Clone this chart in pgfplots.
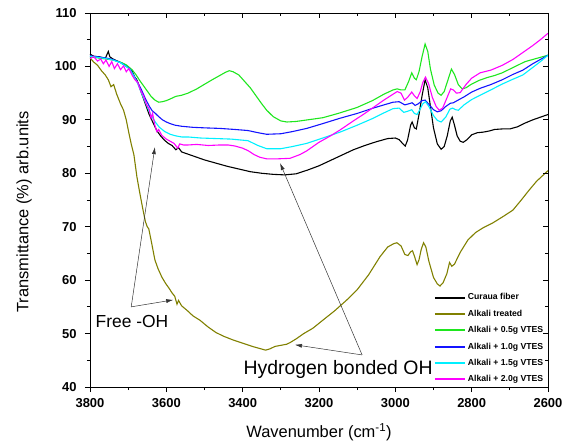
\documentclass[border=0pt]{standalone}
\usepackage{fontspec}
\setmainfont{Liberation Sans}
\usepackage{pgfplots}
\pgfplotsset{compat=1.18}
\usetikzlibrary{arrows.meta}
\definecolor{cblack}{RGB}{0,0,0}
\definecolor{colive}{RGB}{128,128,0}
\definecolor{cgreen}{RGB}{30,230,30}
\definecolor{cblue}{RGB}{20,20,255}
\definecolor{ccyan}{RGB}{0,240,255}
\definecolor{cmag}{RGB}{255,0,255}
\begin{document}
\begin{tikzpicture}
\useasboundingbox (-90bp,-61bp) rectangle (479bp,387bp);
\pgfplotsset{common/.style={
  scale only axis, width=458bp, height=374bp,
  x dir=reverse, xmin=2600, xmax=3800, ymin=40, ymax=110,
  xtick={2600,2800,...,3800}, minor xtick={2700,2900,...,3700},
  ytick={40,50,...,110}, minor ytick={45,55,...,105},
  major tick length=5bp, minor tick length=3bp,
  tick style={black, line width=0.8pt},
}}
\begin{axis}[common,
  axis line style={line width=0.9pt},
  xtick pos=left, ytick pos=left, tick align=outside,
  /pgf/number format/assume math mode=true,
  /pgf/number format/1000 sep={},
  ticklabel style={font=\bfseries\fontsize{13}{15}\selectfont},
  xticklabel style={yshift=-3bp},
  yticklabel style={xshift=-5bp},
  xlabel={Wavenumber (cm\textsuperscript{-1})},
  ylabel={Transmittance (\%) arb.units},
  label style={font=\fontsize{16.5}{19}\selectfont},
  xlabel style={at={(axis description cs:0.5,-0.12)}, anchor=center},
  ylabel style={at={(axis description cs:-0.144,0.468)}, anchor=center},
  legend style={draw=none, fill=none, at={(axis description cs:0.748,0.258)}, anchor=north west,
    font=\bfseries\fontsize{8.7}{10}\selectfont, row sep=4.6bp, inner sep=1pt},
  legend cell align=left,
  legend image code/.code={\draw[#1, line width=2.1pt] (0bp,0bp) -- (30bp,0bp);},
  every axis plot/.append style={line width=1.1pt},
]
\addplot[cblack] coordinates {(3800,102.3)(3790,101.9)(3775,101.8)(3760,101.5)(3752,102.8)(3748,101.8)(3740,101.4)(3725,100.9)(3710,100.4)(3700,99.8)(3690,99.2)(3683,98.0)(3678,97.6)(3672,96.5)(3665,95)(3655,93)(3645,91)(3635,89.5)(3625,88)(3615,87)(3605,86.2)(3595,85.6)(3585,85.2)(3575,84.4)(3568,84.8)(3560,84.0)(3540,83.5)(3520,83.0)(3500,82.5)(3470,81.9)(3440,81.3)(3410,80.8)(3380,80.3)(3350,80.0)(3320,79.8)(3290,79.7)(3260,79.9)(3230,80.6)(3200,81.4)(3170,82.4)(3140,83.4)(3110,84.4)(3080,85.2)(3050,85.9)(3020,86.5)(3000,86.6)(2990,86.3)(2980,85.5)(2974,85.1)(2968,86.2)(2960,89.0)(2956,89.6)(2950,88.5)(2945,88.3)(2938,91)(2930,94.5)(2922,97.5)(2915,96)(2908,92.5)(2900,88.5)(2890,85.5)(2880,84.5)(2872,85)(2864,87)(2856,89.8)(2851,90.5)(2845,89)(2838,87)(2830,86)(2822,85.8)(2812,86.3)(2800,87.2)(2785,87.6)(2770,87.7)(2755,87.9)(2740,88.2)(2720,88.3)(2700,88.3)(2680,88.7)(2660,89.4)(2640,90)(2620,90.5)(2600,91)};
\addlegendentry{Curaua fiber}
\addplot[colive] coordinates {(3800,101.6)(3790,100.8)(3780,100.2)(3770,99.2)(3760,98.4)(3752,97.5)(3745,96.2)(3738,96.6)(3730,94.8)(3720,93.0)(3712,91.8)(3705,90.0)(3698,87.5)(3692,85.5)(3685,83.5)(3677,79.3)(3670,76.5)(3661,73.1)(3655,71)(3650,70)(3646,69.6)(3640,67.5)(3630,63.8)(3622,62.2)(3612,60.6)(3602,59.4)(3592,58.4)(3585,57.6)(3578,57.0)(3572,55.5)(3568,56.2)(3560,55.2)(3545,54.3)(3530,53.3)(3512,52.5)(3490,51.2)(3470,50.2)(3450,49.5)(3425,48.8)(3400,48.2)(3375,47.6)(3350,47.1)(3340,46.9)(3330,47.1)(3315,47.6)(3300,47.8)(3285,48.0)(3276,48.3)(3260,49.0)(3240,50.0)(3216,51.0)(3190,52.5)(3160,54.2)(3127,56.3)(3100,58.2)(3070,61)(3040,64.4)(3020,66.2)(3005,66.8)(2996,67.0)(2985,66.4)(2975,64.8)(2967,64.6)(2960,65.3)(2955,65.5)(2950,64.5)(2943,62.9)(2938,63.8)(2932,65.8)(2926,67.0)(2920,66.2)(2912,63.5)(2900,60.5)(2890,59.3)(2883,58.9)(2875,59.5)(2865,61.2)(2858,63.3)(2852,62.6)(2845,63.0)(2830,65.2)(2810,67.5)(2790,68.9)(2770,69.8)(2745,70.7)(2720,71.8)(2692,73.1)(2670,75)(2650,76.8)(2630,78.5)(2600,80.5)};
\addlegendentry{Alkali treated}
\addplot[cgreen] coordinates {(3800,101.8)(3780,101.6)(3760,101.4)(3740,101.2)(3720,100.8)(3705,100.3)(3690,99.4)(3680,98.5)(3670,97.4)(3660,96.4)(3650,95.4)(3640,94.4)(3630,93.7)(3620,93.3)(3610,93.4)(3600,93.6)(3590,93.9)(3575,94.4)(3560,94.6)(3543,95.0)(3520,95.8)(3499,96.7)(3480,97.5)(3460,98.3)(3445,98.9)(3435,99.2)(3425,99.0)(3410,98.4)(3395,97.2)(3380,96.0)(3365,94.5)(3350,93.0)(3337,91.8)(3320,90.6)(3300,89.8)(3284,89.6)(3260,89.7)(3230,90.0)(3190,90.4)(3150,91.2)(3101,92.3)(3060,93.6)(3030,94.8)(3006,95.6)(2995,95.8)(2985,95.6)(2975,95.6)(2965,97.2)(2957,98.8)(2950,97.8)(2945,97.5)(2938,99)(2930,101.8)(2922,104.2)(2915,102.8)(2908,99.5)(2898,96.5)(2888,95)(2880,94.6)(2872,95.3)(2862,97.5)(2853,99.5)(2845,98.5)(2835,96.6)(2825,95.8)(2815,96)(2800,96.7)(2780,97.4)(2760,97.9)(2740,98.3)(2720,98.8)(2700,99.5)(2680,100.2)(2660,100.9)(2640,101.3)(2620,101.7)(2600,102.1)};
\addlegendentry{Alkali + 0.5g VTES}
\addplot[cblue] coordinates {(3800,102.0)(3780,101.8)(3760,101.6)(3740,101.3)(3720,100.7)(3705,100.0)(3695,99.5)(3685,98.3)(3675,97.0)(3665,95.6)(3655,94.0)(3645,92.6)(3637,91.7)(3630,91.3)(3620,90.6)(3610,90.0)(3600,89.6)(3590,89.3)(3577,89.0)(3560,88.8)(3530,88.6)(3499,88.5)(3460,88.4)(3420,88.2)(3386,88.0)(3360,87.6)(3337,87.3)(3300,87.4)(3270,87.8)(3232,88.4)(3190,89.3)(3145,90.3)(3100,91.2)(3058,92.2)(3030,92.8)(3006,93.3)(2990,93.4)(2975,92.8)(2965,93.0)(2956,93.2)(2948,92.7)(2940,93.0)(2930,93.6)(2922,93.7)(2912,92.9)(2900,91.9)(2890,91.5)(2880,91.7)(2868,92.5)(2856,93.1)(2848,93.2)(2838,93.6)(2820,94.3)(2800,95.2)(2778,95.9)(2750,96.6)(2720,97.5)(2692,98.5)(2666,99.3)(2640,100.5)(2620,101.3)(2600,102.1)};
\addlegendentry{Alkali + 1.0g VTES}
\addplot[ccyan] coordinates {(3800,101.9)(3780,101.7)(3760,101.5)(3740,101.2)(3720,100.7)(3705,100.0)(3695,99.4)(3685,98.2)(3675,96.8)(3665,95.0)(3655,93.3)(3645,91.6)(3637,90.5)(3628,89.5)(3618,88.6)(3604,87.8)(3590,87.3)(3575,87.0)(3560,86.8)(3543,86.8)(3510,86.6)(3470,86.5)(3430,86.4)(3386,86.1)(3360,85.2)(3337,84.6)(3300,84.6)(3270,85.0)(3232,85.6)(3190,86.6)(3145,87.7)(3100,89.0)(3058,90.3)(3030,91.3)(3006,92.1)(2990,92.2)(2978,91.4)(2968,91.6)(2957,91.9)(2950,91.2)(2943,91.0)(2935,92.0)(2928,93.0)(2921,93.4)(2912,92.5)(2900,90.8)(2890,89.9)(2880,89.6)(2868,90.5)(2857,92.0)(2850,92.2)(2842,91.9)(2835,91.8)(2820,92.8)(2800,93.8)(2778,94.6)(2750,95.6)(2720,96.7)(2692,97.6)(2666,98.4)(2640,99.8)(2620,100.9)(2600,102.1)};
\addlegendentry{Alkali + 1.5g VTES}
\addplot[cmag] coordinates {(3800,101.5)(3790,101.8)(3780,101.0)(3772,101.4)(3765,100.5)(3758,101.2)(3750,100.0)(3743,100.9)(3736,99.6)(3728,100.5)(3720,99.4)(3712,100.1)(3705,99.0)(3698,99.6)(3690,98.4)(3682,97.5)(3675,97.0)(3668,95.6)(3660,94.5)(3652,92.9)(3645,92.0)(3640,90.3)(3636,91.2)(3630,89.0)(3625,87.8)(3620,88.2)(3612,87.1)(3600,86.4)(3590,86.0)(3580,85.6)(3570,84.7)(3565,85.5)(3555,85.3)(3543,85.3)(3520,85.4)(3490,85.2)(3460,85.3)(3438,85.3)(3420,85.1)(3400,84.7)(3385,84.2)(3370,83.5)(3355,83.0)(3337,82.7)(3310,82.7)(3276,82.8)(3250,83.5)(3232,84.2)(3200,85.8)(3170,87.0)(3145,88.1)(3110,89.8)(3080,91.2)(3058,92.3)(3030,93.7)(3006,94.8)(2995,95.3)(2985,95.0)(2976,93.7)(2968,94.2)(2957,95.2)(2950,94.5)(2943,94.0)(2935,95.2)(2928,97.0)(2921,98.0)(2913,96.8)(2903,94.2)(2893,92.5)(2885,91.8)(2876,92.2)(2866,93.9)(2855,95.8)(2848,95.6)(2840,95.0)(2830,95.1)(2815,96.6)(2800,97.8)(2778,98.8)(2750,99.3)(2720,100.2)(2692,101.3)(2666,102.6)(2640,103.9)(2620,105.0)(2600,106.2)};
\addlegendentry{Alkali + 2.0g VTES}
% annotations
\draw[black!80, line width=0.5pt, -{Latex[length=7bp,width=4bp]}] (axis cs:3692,55.0) -- (axis cs:3630,84.9);
\draw[black!80, line width=0.5pt, -{Latex[length=7bp,width=4bp]}] (axis cs:3692,55.0) -- (axis cs:3582,56.3);
\draw[black!80, line width=0.5pt, -{Latex[length=7bp,width=4bp]}] (axis cs:3087,46.0) -- (axis cs:3302,81.9);
\draw[black!80, line width=0.5pt, -{Latex[length=7bp,width=4bp]}] (axis cs:3087,46.0) -- (axis cs:3263,47.9);
\node[font=\fontsize{17.5}{20}\selectfont] at (axis cs:3690,52.2) {Free -OH};
\node[font=\fontsize{19.5}{22}\selectfont] at (axis cs:3150,43.2) {Hydrogen bonded OH};
\end{axis}
\begin{axis}[common, xtick pos=right, ytick pos=right, tick align=inside,
  xticklabels={}, yticklabels={}, axis line style={draw=none}]
\addplot[draw=none] coordinates {(3000,50)};
\end{axis}
\end{tikzpicture}
\end{document}
